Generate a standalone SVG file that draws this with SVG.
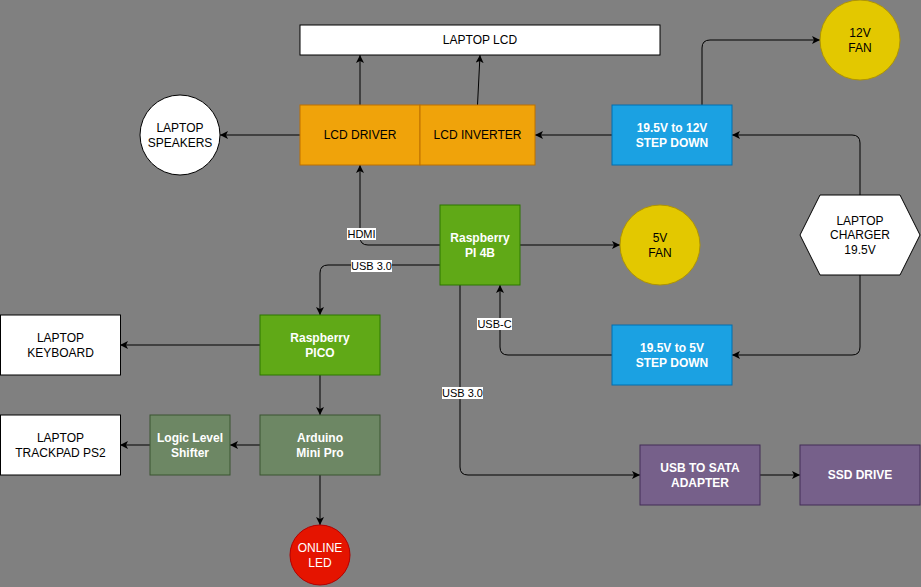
<svg xmlns="http://www.w3.org/2000/svg" width="921" height="587" viewBox="0 0 921 587">
<defs>
<marker id="arr" markerUnits="userSpaceOnUse" markerWidth="8" markerHeight="8" viewBox="0 0 8 8" refX="8" refY="4" orient="auto"><path d="M0,0 L8,4 L0,8 L2,4 Z" fill="#000"/></marker>
<style>
text{font-family:"Liberation Sans",Arial,sans-serif;font-size:12px;text-anchor:middle}
.dk{fill:#000}
.wb{fill:#fff;font-weight:bold}
.wt{fill:#fff}
.lbl{font-size:11px;fill:#000}
.edge{fill:none;stroke:#000;stroke-width:1;marker-end:url(#arr)}
.white{fill:#fff;stroke:#000}
.orange{fill:#f0a30a;stroke:#BD7000}
.blue{fill:#1ba1e2;stroke:#006EAF}
.yellow{fill:#e3c800;stroke:#B09500}
.green{fill:#60a917;stroke:#2D7600}
.olive{fill:#6d8764;stroke:#3A5431}
.purple{fill:#76608a;stroke:#432D57}
.red{fill:#e51400;stroke:#B20000}
</style>
</defs>
<rect x="0" y="0" width="921" height="587" fill="#808080"/>
<g id="connectors">
<path class="edge" d="M360,105 L360,55"/>
<path class="edge" d="M477.5,105 L480,55"/>
<path class="edge" d="M300,135 L220,135"/>
<path class="edge" d="M612,135 L535,135"/>
<path class="edge" d="M702,105 L702,48 Q702,40 710,40 L820,40"/>
<path class="edge" d="M860,195 L860,143 Q860,135 852,135 L732,135"/>
<path class="edge" d="M860,275 L860,347 Q860,355 852,355 L732,355"/>
<path class="edge" d="M520,245 L620,245"/>
<path class="edge" d="M440,245 L368,245 Q360,245 360,237 L360,165"/>
<path class="edge" d="M440,265 L328,265 Q320,265 320,273 L320,315"/>
<path class="edge" d="M612,355 L508,355 Q500,355 500,347 L500,285"/>
<path class="edge" d="M460,285 L460,467 Q460,475 468,475 L640,475"/>
<path class="edge" d="M760,475 L800,475"/>
<path class="edge" d="M260,345 L120,345"/>
<path class="edge" d="M320,375 L320,415"/>
<path class="edge" d="M260,445 L230,445"/>
<path class="edge" d="M150,445 L120,445"/>
<path class="edge" d="M320,475 L320,525"/>
<rect x="347" y="228" width="29" height="12" fill="#fff"/>
<text class="lbl" x="361.5" y="238">HDMI</text>
<rect x="351" y="260" width="41" height="12" fill="#fff"/>
<text class="lbl" x="371.5" y="270">USB 3.0</text>
<rect x="477" y="318" width="35" height="12" fill="#fff"/>
<text class="lbl" x="494.5" y="328">USB-C</text>
<rect x="442" y="387" width="41" height="12" fill="#fff"/>
<text class="lbl" x="462.5" y="397">USB 3.0</text>
</g>
<g id="laptop-lcd"><rect class="white" x="300" y="25" width="360" height="30"/><text class="dk" x="480" y="44.3">LAPTOP LCD</text></g>
<g id="lcd-driver"><rect class="orange" x="300" y="105" width="120" height="60"/><text class="dk" x="360" y="139.3">LCD DRIVER</text></g>
<g id="lcd-inverter"><rect class="orange" x="420" y="105" width="115" height="60"/><text class="dk" x="477.5" y="139.3">LCD INVERTER</text></g>
<g id="laptop-speakers"><circle class="white" cx="180" cy="135" r="40"/><text class="dk" x="180" y="131.6">LAPTOP</text><text class="dk" x="180" y="146.6">SPEAKERS</text></g>
<g id="fan-12v"><circle class="yellow" cx="860" cy="40" r="40"/><text class="dk" x="860" y="36.6">12V</text><text class="dk" x="860" y="51.6">FAN</text></g>
<g id="step-12v"><rect class="blue" x="612" y="105" width="120" height="60"/><text class="wb" x="672" y="131.6">19.5V to 12V</text><text class="wb" x="672" y="146.6">STEP DOWN</text></g>
<g id="charger"><polygon class="white" points="800,235 820,195 900,195 920,235 900,275 820,275"/><text class="dk" x="860" y="224.5">LAPTOP</text><text class="dk" x="860" y="239">CHARGER</text><text class="dk" x="860" y="253.5">19.5V</text></g>
<g id="raspberry-pi"><rect class="green" x="440" y="205" width="80" height="80"/><text class="wb" x="480" y="241.6">Raspberry</text><text class="wb" x="480" y="256.6">PI 4B</text></g>
<g id="fan-5v"><circle class="yellow" cx="660" cy="245" r="40"/><text class="dk" x="660" y="241.6">5V</text><text class="dk" x="660" y="256.6">FAN</text></g>
<g id="step-5v"><rect class="blue" x="612" y="325" width="120" height="60"/><text class="wb" x="672" y="351.6">19.5V to 5V</text><text class="wb" x="672" y="366.6">STEP DOWN</text></g>
<g id="pico"><rect class="green" x="260" y="315" width="120" height="60"/><text class="wb" x="320" y="341.6">Raspberry</text><text class="wb" x="320" y="356.6">PICO</text></g>
<g id="keyboard"><rect class="white" x="0.5" y="315" width="120" height="60"/><text class="dk" x="60.5" y="341.6">LAPTOP</text><text class="dk" x="60.5" y="356.6">KEYBOARD</text></g>
<g id="arduino"><rect class="olive" x="260" y="415" width="120" height="60"/><text class="wb" x="320" y="441.6">Arduino</text><text class="wb" x="320" y="456.6">Mini Pro</text></g>
<g id="shifter"><rect class="olive" x="150" y="415" width="80" height="60"/><text class="wb" x="190" y="441.6">Logic Level</text><text class="wb" x="190" y="456.6">Shifter</text></g>
<g id="trackpad"><rect class="white" x="0.5" y="415" width="120" height="60"/><text class="dk" x="60.5" y="441.6">LAPTOP</text><text class="dk" x="60.5" y="456.6">TRACKPAD PS2</text></g>
<g id="online-led"><circle class="red" cx="320" cy="555" r="30"/><text class="wt" x="320" y="551.6">ONLINE</text><text class="wt" x="320" y="566.6">LED</text></g>
<g id="usb-sata"><rect class="purple" x="640" y="445" width="120" height="60"/><text class="wb" x="700" y="471.6">USB TO SATA</text><text class="wb" x="700" y="486.6">ADAPTER</text></g>
<g id="ssd"><rect class="purple" x="800" y="445" width="120" height="60"/><text class="wb" x="860" y="479.3">SSD DRIVE</text></g>
</svg>
